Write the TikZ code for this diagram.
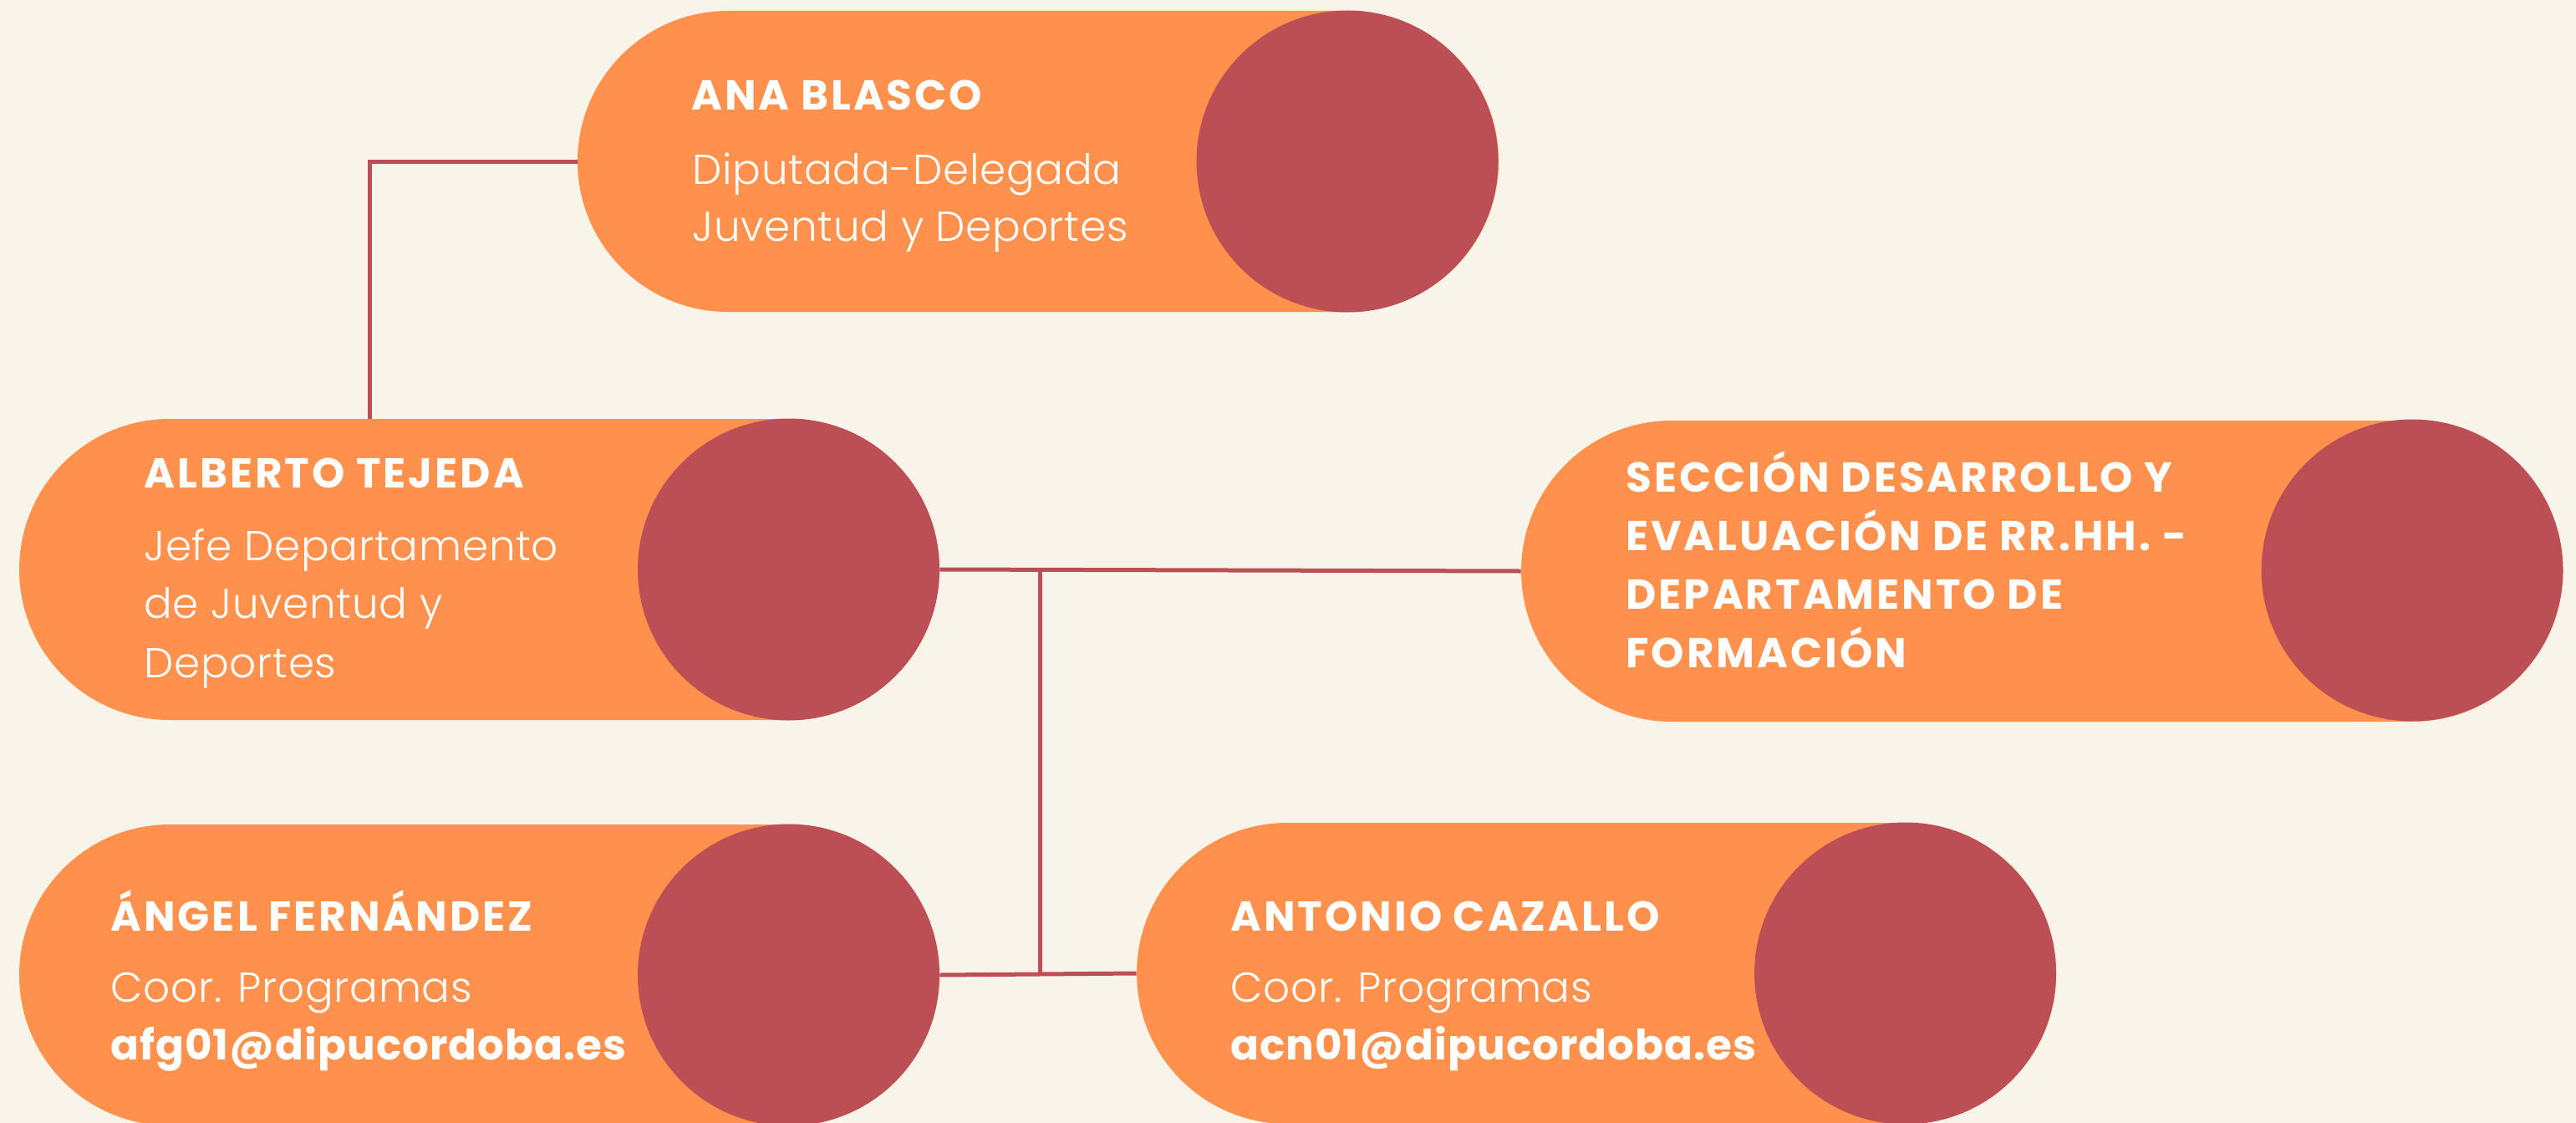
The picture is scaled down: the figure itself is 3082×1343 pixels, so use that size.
\documentclass[tikz,border=0pt]{standalone}
\usepackage{fontspec}
\setmainfont{Poppins}
\newfontfamily\ttlfont{Poppins}[LetterSpace=6]
\newfontfamily\mailfont{Poppins}[LetterSpace=2]
\newfontfamily\bodyfont{Poppins Light}[LetterSpace=1.5]
\usetikzlibrary{shapes.misc}
\definecolor{bg}{HTML}{F8F4E9}
\definecolor{org}{HTML}{FF914D}
\definecolor{wine}{HTML}{BC4F55}
\tikzset{
  pill/.style={rounded rectangle, fill=org, minimum height=180pt, inner sep=0pt, draw=none},
  disc/.style={circle, fill=wine, minimum size=180.5pt, inner sep=0pt, draw=none},
  ttl/.style={anchor=base west, inner sep=0pt, text=white, font=\ttlfont\bfseries\fontsize{25}{30}\selectfont},
  bdy/.style={anchor=base west, inner sep=0pt, text=white, font=\bodyfont\fontsize{25}{30}\selectfont},
  mail/.style={anchor=base west, inner sep=0pt, text=white, font=\mailfont\bfseries\fontsize{25}{30}\selectfont},
  link/.style={draw=wine, line width=2.5pt},
}
\begin{document}
\begin{tikzpicture}[x=0.5pt, y=-0.5pt]
\fill[bg] (0,0) rectangle (3082,1343);
\useasboundingbox (0,0) rectangle (3082,1343);
% pills
\node[pill, minimum width=551pt] (ana) at (1242,193) {};
\node[disc] (anac) at (1612,193) {};
\node[pill, minimum width=550.5pt] (alb) at (573.5,681) {};
\node[disc] (albc) at (943.5,681) {};
\node[pill, minimum width=623pt] (sec) at (2443,683) {};
\node[disc] (secc) at (2886,682) {};
\node[pill, minimum width=550.5pt] (ang) at (573.5,1166) {};
\node[disc] (angc) at (943.5,1166) {};
\node[pill, minimum width=550pt] (ant) at (1910,1164) {};
\node[disc] (antc) at (2279.5,1164) {};
% connectors
\coordinate (k1) at (442,193);
\coordinate (k2) at (1244,682);
\coordinate (k3) at (1244,1166);
\draw[link] (ana.west) -- (k1) -- (k1 |- alb.north);
\draw[link] (albc.east) -- (sec.west);
\draw[link] (k2) -- (k3);
\draw[link] (angc.east) -- (ant.west);
% texts
\node[ttl] (t1) at (827,132) {ANA BLASCO};
\node[bdy] (t1a) at (828,220) {Diputada-Delegada};
\node[bdy] (t1b) at (828,288) {Juventud y Deportes};
\node[ttl] (t2) at (172,583) {ALBERTO TEJEDA};
\node[bdy] (t2a) at (172,670) {Jefe Departamento};
\node[bdy] (t2b) at (172,739) {de Juventud y};
\node[bdy] (t2c) at (172,810) {Deportes};
\node[ttl] (t3) at (1945,588) {SECCIÓN DESARROLLO Y};
\node[ttl] (t3a) at (1945,658) {EVALUACIÓN DE RR.HH. -};
\node[ttl] (t3b) at (1945,728) {DEPARTAMENTO DE};
\node[ttl] (t3c) at (1945,798) {FORMACIÓN};
\node[ttl] (t4) at (132,1113) {ÁNGEL FERNÁNDEZ};
\node[bdy] (t4a) at (132,1198) {Coor. Programas};
\node[mail] (t4b) at (132,1267) {afg01@dipucordoba.es};
\node[ttl] (t5) at (1472,1113) {ANTONIO CAZALLO};
\node[bdy] (t5a) at (1472,1198) {Coor. Programas};
\node[mail] (t5b) at (1472,1267) {acn01@dipucordoba.es};
\end{tikzpicture}
\end{document}
